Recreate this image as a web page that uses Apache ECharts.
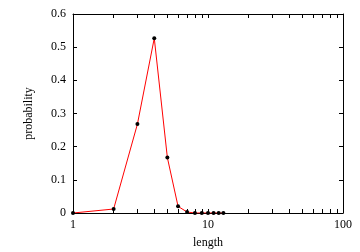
<!DOCTYPE html>
<html><head><meta charset="utf-8">
<script src="https://cdn.jsdelivr.net/npm/echarts@6/dist/echarts.min.js"></script>
<style>html,body{margin:0;padding:0;background:#fff}#c{width:360px;height:252px}</style>
</head><body><div id="c"></div>
<script>
var lengths = [1,2,3,4,5,6,7,8,9,10,11,12,13];
var probs = [0.0,0.012,0.268,0.527,0.167,0.020,0.003,0.0,0.0,0.0,0.0,0.0,0.0];
var xTickVals = [1,2,3,4,5,6,7,8,9,10,20,30,40,50,60,70,80,90,100];
var xLabelVals = [1,10,100];

var font = 'Liberation Serif';
var chart = echarts.init(document.getElementById('c'), null, {renderer:'canvas'});
function axisLine(){ return {show:true, onZero:false, lineStyle:{color:'#000', width:1}}; }
function xAxis(pos, labels){
  return {type:'log', logBase:10, min:1, max:100, position:pos,
    axisLine:axisLine(),
    axisTick:{show:true, inside:true, length:4, customValues:xTickVals, lineStyle:{color:'#000'}},
    axisLabel:{show:labels, customValues:xLabelVals, color:'#000', fontFamily:font, fontSize:12, margin:6},
    splitLine:{show:false},
    name: labels ? 'length' : '', nameLocation:'middle', nameGap:24,
    nameTextStyle:{color:'#000', fontFamily:font, fontSize:12}};
}
function yAxis(pos, labels){
  return {type:'value', min:0, max:0.6, interval:0.1, position:pos,
    axisLine:axisLine(),
    axisTick:{show:true, inside:true, length:4, lineStyle:{color:'#000'}},
    axisLabel:{show:labels, color:'#000', fontFamily:font, fontSize:12, margin:7,
      formatter:function(v){return String(Math.round(v*10)/10);}},
    splitLine:{show:false},
    name: labels ? 'probability' : '', nameLocation:'middle', nameGap:38, nameRotate:90,
    nameTextStyle:{color:'#000', fontFamily:font, fontSize:12}};
}
chart.setOption({
  animation:false,
  grid:{left:73, right:17, top:14, bottom:39, containLabel:false, outerBoundsMode:'none'},
  xAxis:[xAxis('bottom', true), xAxis('top', false)],
  yAxis:[yAxis('left', true), yAxis('right', false)],
  series:[{type:'line', xAxisIndex:0, yAxisIndex:0,
    data: lengths.map(function(l,i){return [l, probs[i]];}),
    lineStyle:{color:'#ff0000', width:1},
    symbol:'circle', symbolSize:4,
    itemStyle:{color:'#000', borderWidth:0}}]
});
</script></body></html>
